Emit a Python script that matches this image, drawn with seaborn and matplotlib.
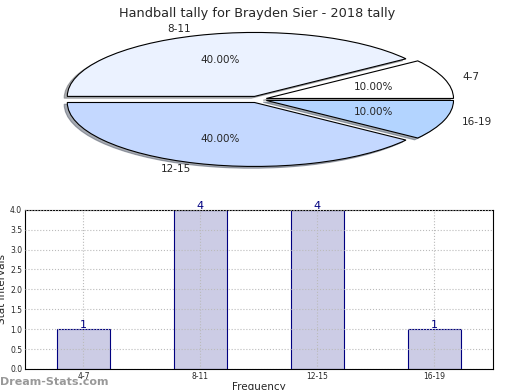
import matplotlib
matplotlib.use("Agg")
import matplotlib.pyplot as plt
import seaborn as sns
import pandas as pd

# data
categories = ["4-7", "8-11", "12-15", "16-19"]
counts = [1, 4, 4, 1]
slice_colors = ["#FFFFFF", "#EBF2FF", "#C4D8FF", "#B3D4FF"]

sns.set_style("white")
plt.rcParams["font.family"] = ["DejaVu Sans"]

fig = plt.figure(figsize=(5.2, 3.9), dpi=100)

# %% pie (squashed, not equal aspect)
ax_pie = fig.add_axes([0.045, 0.54, 0.9, 0.41])
ax_pie.pie(counts, labels=categories, colors=slice_colors, autopct="%.2f%%",
           explode=[0.05] * 4, startangle=0,
           shadow=dict(ox=-0.012, oy=-0.02, shade=0.6),
           wedgeprops=dict(edgecolor="black", linewidth=0.8),
           textprops=dict(fontsize=7.5))
ax_pie.set_aspect("auto")
ax_pie.set_title("Handball tally for Brayden Sier - 2018 tally", fontsize=9.3, pad=2)

# %% bars
df = pd.DataFrame({"interval": categories, "count": counts})
ax_bar = fig.add_axes([0.048, 0.054, 0.9, 0.408])
sns.barplot(data=df, x="interval", y="count", color="#CCCCE5", saturation=1,
            edgecolor="#000080", linewidth=0.8, width=0.45, ax=ax_bar)
ax_bar.set_xlim(-0.5, 3.5)
ax_bar.set_ylim(0, 4)
ax_bar.set_yticks([0, 0.5, 1, 1.5, 2, 2.5, 3, 3.5, 4])
ax_bar.set_yticklabels([f"{v:.1f}" for v in ax_bar.get_yticks()])
ax_bar.grid(True, linestyle=":", color="#BBBBBB", linewidth=0.8)
ax_bar.set_axisbelow(False)
for s in ax_bar.spines.values():
    s.set_color("black")
    s.set_linewidth(0.8)
ax_bar.tick_params(labelsize=5.5, direction="in", length=2, pad=2)
ax_bar.set_xlabel("Frequency", fontsize=7.5, labelpad=1)
ax_bar.set_ylabel("Stat Intervals", fontsize=7.5, labelpad=2)
for i, v in enumerate(counts):
    ax_bar.text(i, v - 0.02, str(v), ha="center", va="bottom",
                fontsize=8, color="#000080")

fig.text(0.0, 0.008, "Dream-Stats.com", fontsize=8, color="#999999",
         fontweight="bold", ha="left", va="bottom")

fig.savefig("out.png", dpi=100)
